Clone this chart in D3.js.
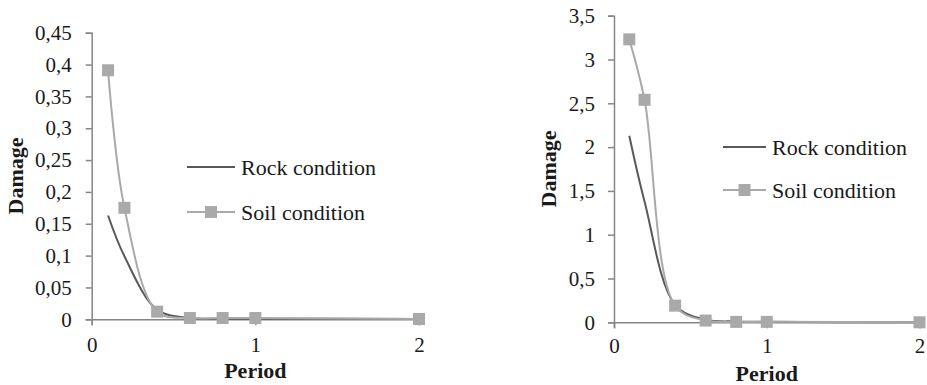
<!DOCTYPE html>
<html>
<head>
<meta charset="utf-8">
<script src="https://cdn.jsdelivr.net/npm/d3@7"></script>
<style>
  body { margin: 0; background: #fff; }
  svg { display: block; }
  text { font-family: "Liberation Serif", "Times New Roman", serif; fill: #1a1a1a; }
</style>
</head>
<body>
<svg id="chart" width="927" height="385"></svg>
<script>
// periods (x values)
var periods = [0.1, 0.2, 0.4, 0.6, 0.8, 1, 2]

// left panel
var rockLeft = [0.163, 0.099, 0.015, 0.002, 0.001, 0.001, 0.0005]
var soilLeft = [0.391, 0.175, 0.012, 0.002, 0.002, 0.002, 0.0005]
var yTicksLeft = [0, 0.05, 0.1, 0.15, 0.2, 0.25, 0.3, 0.35, 0.4, 0.45]

// right panel
var rockRight = [2.13, 1.38, 0.2, 0.03, 0.01, 0.005, 0]
var soilRight = [3.23, 2.54, 0.19, 0.02, 0.005, 0.005, 0]
var yTicksRight = [0, 0.5, 1, 1.5, 2, 2.5, 3, 3.5]

var xTicks = [0, 1, 2]
var seriesNames = ["Rock condition", "Soil condition"]

var axisColor = "#868686"
var rockColor = "#595959"
var soilColor = "#a9a9a9"

var svg = d3.select("#chart")

function fmt(v) {
  return String(v).replace(".", ",")
}

function styleAxis(sel) {
  sel.attr("font-family", "Liberation Serif").attr("font-size", 21)
  sel.select(".domain").attr("stroke", axisColor).attr("stroke-width", 1.5)
  sel.selectAll(".tick line").attr("stroke", axisColor).attr("stroke-width", 1.5)
  sel.selectAll(".tick text").attr("fill", "#1a1a1a")
}

function drawPanel(opts) {
  var g = svg.append("g")

  var x = d3.scaleLinear().domain([0, 2]).range([opts.left, opts.right])
  var y = d3.scaleLinear().domain([0, opts.yMax]).range([opts.bottom, opts.top])

  // y axis
  var yAxis = d3.axisLeft(y)
    .tickValues(opts.yTicks)
    .tickFormat(fmt)
    .tickSize(6)
    .tickPadding(opts.yPad)
  g.append("g")
    .attr("transform", "translate(" + opts.left + ",0)")
    .call(yAxis)
    .call(styleAxis)

  // x axis
  var xAxis = d3.axisBottom(x)
    .tickValues(xTicks)
    .tickFormat(d3.format("d"))
    .tickSize(6)
    .tickPadding(opts.xPad)
  g.append("g")
    .attr("transform", "translate(0," + opts.bottom + ")")
    .call(xAxis)
    .call(styleAxis)

  var line = d3.line()
    .x(function(d, i) { return x(periods[i]) })
    .y(function(d) { return y(d) })
    .curve(d3.curveCatmullRom.alpha(0.5))

  g.append("path")
    .datum(opts.rock)
    .attr("d", line)
    .attr("fill", "none")
    .attr("stroke", rockColor)
    .attr("stroke-width", 2)

  g.append("path")
    .datum(opts.soil)
    .attr("d", line)
    .attr("fill", "none")
    .attr("stroke", soilColor)
    .attr("stroke-width", 2)

  var m = 12
  g.selectAll("rect.mk")
    .data(opts.soil)
    .enter()
    .append("rect")
    .attr("class", "mk")
    .attr("x", function(d, i) { return x(periods[i]) - m / 2 })
    .attr("y", function(d) { return y(d) - m / 2 })
    .attr("width", m)
    .attr("height", m)
    .attr("fill", soilColor)

  // axis titles
  g.append("text")
    .attr("transform", "translate(" + opts.yTitleX + "," + ((opts.top + opts.bottom) / 2) + ") rotate(-90)")
    .attr("text-anchor", "middle")
    .attr("font-size", 22)
    .attr("font-weight", "bold")
    .text("Damage")

  g.append("text")
    .attr("x", x(1))
    .attr("y", opts.xTitleY)
    .attr("text-anchor", "middle")
    .attr("font-size", 22)
    .attr("font-weight", "bold")
    .text("Period")

  // legend
  var lg = g.append("g").attr("transform", "translate(" + opts.legX + "," + opts.legY + ")")
  lg.append("line")
    .attr("x1", 0).attr("x2", opts.legLen)
    .attr("y1", 0).attr("y2", 0)
    .attr("stroke", rockColor).attr("stroke-width", 2)
  lg.append("text")
    .attr("x", opts.legLen + 6).attr("y", 8)
    .attr("font-size", 22)
    .text(seriesNames[0])
  lg.append("line")
    .attr("x1", 0).attr("x2", opts.legLen)
    .attr("y1", opts.legGap).attr("y2", opts.legGap)
    .attr("stroke", soilColor).attr("stroke-width", 2)
  lg.append("rect")
    .attr("x", opts.legLen / 2 - m / 2).attr("y", opts.legGap - m / 2)
    .attr("width", m).attr("height", m)
    .attr("fill", soilColor)
  lg.append("text")
    .attr("x", opts.legLen + 6).attr("y", opts.legGap + 8)
    .attr("font-size", 22)
    .text(seriesNames[1])
}

drawPanel({
  left: 91.7, right: 419, top: 32.7, bottom: 319.3,
  yMax: 0.45, yTicks: yTicksLeft, yPad: 14, xPad: 12,
  rock: rockLeft, soil: soilLeft, xTitleY: 378,
  yTitleX: 23, legX: 187, legY: 167, legGap: 45, legLen: 48
})

drawPanel({
  left: 614, right: 919.5, top: 15.7, bottom: 322.3,
  yMax: 3.5, yTicks: yTicksRight, yPad: 13, xPad: 10,
  rock: rockRight, soil: soilRight, xTitleY: 381,
  yTitleX: 556, legX: 723, legY: 147, legGap: 43, legLen: 43
})
</script>
</body>
</html>
